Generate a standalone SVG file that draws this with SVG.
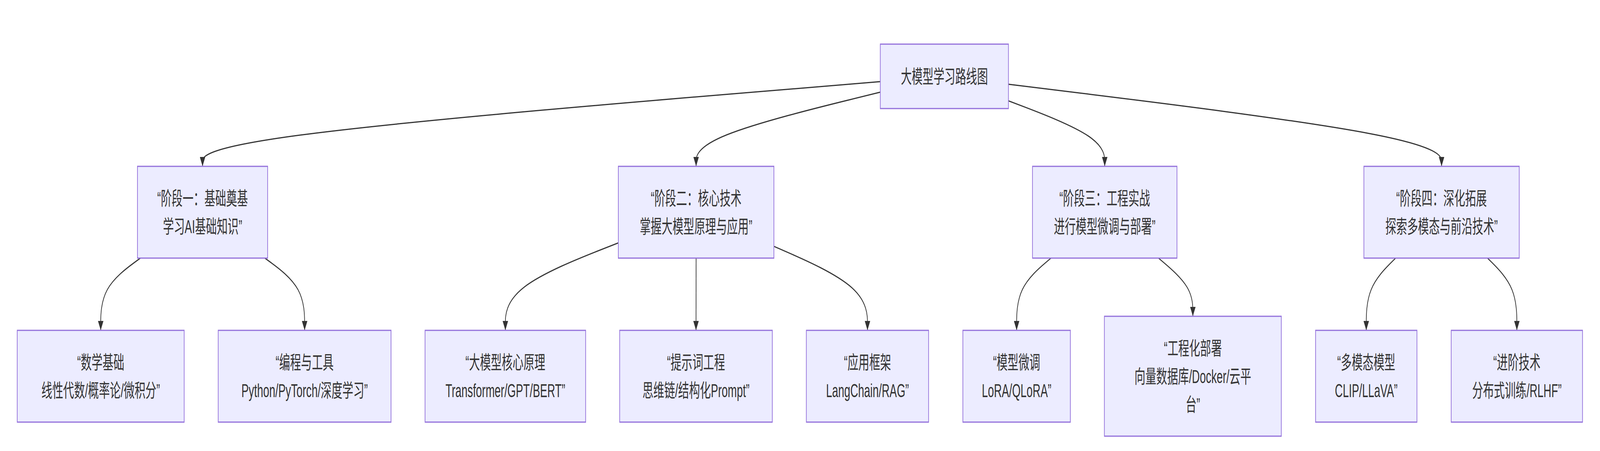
<svg xmlns="http://www.w3.org/2000/svg" width="7054" height="1155" viewBox="0 0 7054 1155" preserveAspectRatio="none" style="width:100vw;height:100vh;display:block">
<style>
.node rect{fill:#ECECFF;stroke:#9370DB;stroke-width:3}
.node text{font-family:"Liberation Sans","Noto Sans CJK SC",sans-serif;font-size:48px;fill:#333333;text-anchor:middle}
.edges path{fill:none;stroke:#333333;stroke-width:3;marker-end:url(#arrow)}
</style>
<defs>
<marker id="arrow" viewBox="0 0 10 10" refX="10" refY="5" markerUnits="userSpaceOnUse" markerWidth="24" markerHeight="24" orient="auto">
<path d="M0,0 L10,5 L0,10 z" fill="#333333"/>
</marker>
</defs>
<g id="edges" class="edges">
<path d="M3881,209.1 L3383,233 C2885,256.9 1889,304.7 1391,340.9 C893,377 893,401.5 893,413.75 L893,426"/>
<path d="M3881,236 L3745.7,255.4 C3610.3,274.8 3339.7,313.7 3204.3,345.3 C3069,377 3069,401.5 3069,413.75 L3069,426"/>
<path d="M4446,258.2 L4516.75,273.9 C4587.5,289.6 4729,321.1 4799.75,349 C4870.5,377 4870.5,401.5 4870.5,413.75 L4870.5,426"/>
<path d="M4446,215.7 L4764.25,238.5 C5082.5,261.3 5719,306.9 6037.25,341.95 C6355.5,377 6355.5,401.5 6355.5,413.75 L6355.5,426"/>
<path d="M618.9,661 L589.75,673.5 C560.6,686 502.3,711 473.15,741.8 C444,772.7 444,809.3 444,827.7 L444,846"/>
<path d="M1167.7,661 L1196.9,673.5 C1226.1,686 1284.6,711 1313.8,741.8 C1343,772.7 1343,809.3 1343,827.7 L1343,846"/>
<path d="M2726,622 L2643,641 C2560,660 2394,698 2311,735.3 C2228,772.7 2228,809.3 2228,827.7 L2228,846"/>
<path d="M3069,661 L3068.5,846"/>
<path d="M3412,630.9 L3480.75,648.4 C3549.5,665.9 3687,701 3755.75,736.8 C3824.5,772.7 3824.5,809.3 3824.5,827.7 L3824.5,846"/>
<path d="M4633.4,661 L4608.2,673.5 C4582.9,686 4532.5,711 4507.2,741.8 C4482,772.7 4482,809.3 4482,827.7 L4482,846"/>
<path d="M5107.6,661 L5132.8,673.5 C5158.1,686 5208.5,711 5233.8,735.8 C5259,760.7 5259,785.3 5259,797.7 L5259,810"/>
<path d="M6152.9,661 L6131.3,673.5 C6109.8,686 6066.6,711 6045.1,741.8 C6023.5,772.7 6023.5,809.3 6023.5,827.7 L6023.5,846"/>
<path d="M6558.1,661 L6579.7,673.5 C6601.2,686 6644.4,711 6665.9,741.8 C6687.5,772.7 6687.5,809.3 6687.5,827.7 L6687.5,846"/>
</g>
<g id="root" class="node">
<rect x="3881" y="113" width="565" height="165"/>
<text x="4163.5" y="213">大模型学习路线图</text>
</g>
<g id="stage1" class="node">
<rect x="606" y="426" width="574" height="235"/>
<text x="893" y="525">“阶段一：基础奠基</text>
<text x="893" y="597">学习AI基础知识”</text>
</g>
<g id="stage2" class="node">
<rect x="2726" y="426" width="686" height="235"/>
<text x="3069" y="525">“阶段二：核心技术</text>
<text x="3069" y="597">掌握大模型原理与应用”</text>
</g>
<g id="stage3" class="node">
<rect x="4552" y="426" width="637" height="235"/>
<text x="4870.5" y="525">“阶段三：工程实战</text>
<text x="4870.5" y="597">进行模型微调与部署”</text>
</g>
<g id="stage4" class="node">
<rect x="6013" y="426" width="685" height="235"/>
<text x="6355.5" y="525">“阶段四：深化拓展</text>
<text x="6355.5" y="597">探索多模态与前沿技术”</text>
</g>
<g id="math" class="node">
<rect x="76" y="846" width="736" height="235"/>
<text x="444" y="945">“数学基础</text>
<text x="444" y="1017">线性代数/概率论/微积分”</text>
</g>
<g id="prog" class="node">
<rect x="962" y="846" width="762" height="235"/>
<text x="1343" y="945">“编程与工具</text>
<text x="1343" y="1017">Python/PyTorch/深度学习”</text>
</g>
<g id="core" class="node">
<rect x="1874" y="846" width="708" height="235"/>
<text x="2228" y="945">“大模型核心原理</text>
<text x="2228" y="1017">Transformer/GPT/BERT”</text>
</g>
<g id="prompt" class="node">
<rect x="2732" y="846" width="673" height="235"/>
<text x="3068.5" y="945">“提示词工程</text>
<text x="3068.5" y="1017">思维链/结构化Prompt”</text>
</g>
<g id="framework" class="node">
<rect x="3555" y="846" width="539" height="235"/>
<text x="3824.5" y="945">“应用框架</text>
<text x="3824.5" y="1017">LangChain/RAG”</text>
</g>
<g id="finetune" class="node">
<rect x="4245" y="846" width="474" height="235"/>
<text x="4482" y="945">“模型微调</text>
<text x="4482" y="1017">LoRA/QLoRA”</text>
</g>
<g id="deploy" class="node">
<rect x="4869" y="810" width="780" height="307"/>
<text x="5259" y="909">“工程化部署</text>
<text x="5259" y="981">向量数据库/Docker/云平</text>
<text x="5259" y="1053">台”</text>
</g>
<g id="multimodal" class="node">
<rect x="5800" y="846" width="447" height="235"/>
<text x="6023.5" y="945">“多模态模型</text>
<text x="6023.5" y="1017">CLIP/LLaVA”</text>
</g>
<g id="advanced" class="node">
<rect x="6398" y="846" width="579" height="235"/>
<text x="6687.5" y="945">“进阶技术</text>
<text x="6687.5" y="1017">分布式训练/RLHF”</text>
</g>
</svg>
